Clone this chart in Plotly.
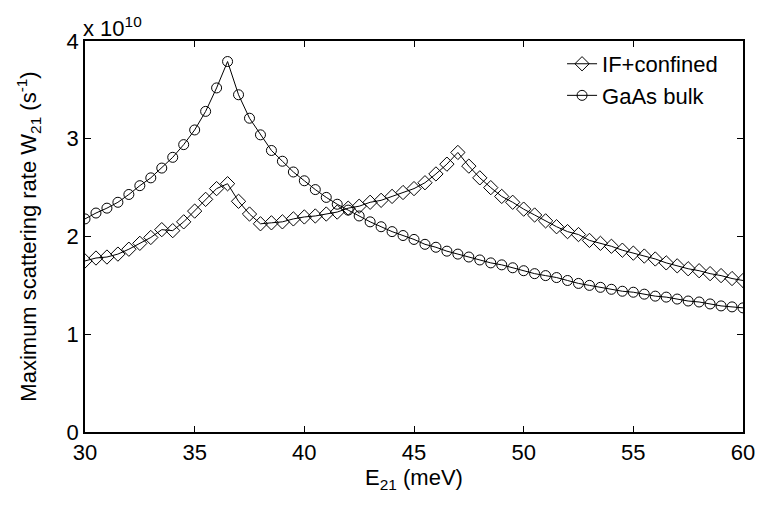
import plotly.graph_objects as go

E21 = [30, 30.5, 31, 31.5, 32, 32.5, 33, 33.5, 34, 34.5, 35, 35.5, 36, 36.5, 37, 37.5,
       38, 38.5, 39, 39.5, 40, 40.5, 41, 41.5, 42, 42.5, 43, 43.5, 44, 44.5, 45, 45.5,
       46, 46.5, 47, 47.5, 48, 48.5, 49, 49.5, 50, 50.5, 51, 51.5, 52, 52.5, 53, 53.5,
       54, 54.5, 55, 55.5, 56, 56.5, 57, 57.5, 58, 58.5, 59, 59.5, 60]

# scattering rate in units of 1e10 s^-1
if_confined = [1.75, 1.78, 1.79, 1.82, 1.87, 1.93, 1.99, 2.07, 2.06, 2.15, 2.26, 2.38, 2.49, 2.54, 2.36, 2.23,
               2.13, 2.14, 2.15, 2.18, 2.20, 2.21, 2.23, 2.25, 2.29, 2.31, 2.35, 2.37, 2.41, 2.45, 2.49, 2.55,
               2.64, 2.74, 2.86, 2.72, 2.60, 2.50, 2.41, 2.35, 2.28, 2.22, 2.16, 2.10, 2.05, 2.02, 1.96, 1.93,
               1.90, 1.86, 1.83, 1.80, 1.77, 1.73, 1.70, 1.67, 1.65, 1.62, 1.60, 1.57, 1.55]

gaas_bulk = [2.18, 2.24, 2.29, 2.35, 2.43, 2.52, 2.60, 2.70, 2.81, 2.94, 3.09, 3.28, 3.52, 3.79, 3.45, 3.21,
             3.04, 2.88, 2.77, 2.66, 2.57, 2.48, 2.40, 2.33, 2.27, 2.21, 2.15, 2.10, 2.05, 2.01, 1.97, 1.92,
             1.89, 1.85, 1.82, 1.79, 1.76, 1.73, 1.71, 1.68, 1.65, 1.62, 1.60, 1.58, 1.55, 1.52, 1.50, 1.48,
             1.46, 1.44, 1.43, 1.41, 1.39, 1.38, 1.36, 1.34, 1.33, 1.31, 1.29, 1.28, 1.27]

x_ticks = [30, 35, 40, 45, 50, 55, 60]
y_ticks = [0, 1, 2, 3, 4]

FONT = "Liberation Sans, Arial, Helvetica, sans-serif"

fig = go.Figure()
fig.add_trace(go.Scatter(
    x=E21, y=if_confined, mode="lines+markers", name="IF+confined",
    line=dict(color="black", width=1),
    marker=dict(symbol="diamond-open", size=11, color="black", line=dict(width=1)),
))
fig.add_trace(go.Scatter(
    x=E21, y=gaas_bulk, mode="lines+markers", name="GaAs bulk",
    line=dict(color="black", width=1),
    marker=dict(symbol="circle-open", size=10, color="black", line=dict(width=1)),
))

axis_common = dict(
    showline=True, linecolor="black", linewidth=1.5, mirror="ticks",
    ticks="inside", ticklen=6, tickwidth=1, tickcolor="black",
    showgrid=False, zeroline=False,
    tickfont=dict(family=FONT, size=22, color="black"),
)

fig.update_xaxes(
    range=[30, 60], tickvals=x_ticks, ticktext=[str(v) for v in x_ticks],
    title=dict(text="E<sub>21</sub> (meV)", font=dict(family=FONT, size=22, color="black"), standoff=2),
    **axis_common,
)
fig.update_yaxes(
    range=[0, 4], tickvals=y_ticks, ticktext=[str(v) for v in y_ticks],
    title=dict(text="Maximum scattering rate W<sub>21</sub> (s<sup>-1</sup>)",
               font=dict(family=FONT, size=22, color="black"), standoff=24),
    **axis_common,
)

fig.add_annotation(
    xref="paper", yref="paper", x=0.0, y=1.0, xanchor="left", yanchor="bottom",
    text="x 10<sup>10</sup>", showarrow=False, xshift=-4, yshift=-2,
    font=dict(family=FONT, size=22, color="black"),
)

fig.update_layout(
    width=767, height=507,
    margin=dict(l=85, r=17, t=41, b=75),
    paper_bgcolor="white", plot_bgcolor="white",
    showlegend=True,
    legend=dict(
        x=0.725, y=0.995, xanchor="left", yanchor="top",
        bgcolor="rgba(255,255,255,0)", borderwidth=0,
        font=dict(family=FONT, size=22, color="black"),
        tracegroupgap=0,
    ),
)

fig.write_html("out.html")
